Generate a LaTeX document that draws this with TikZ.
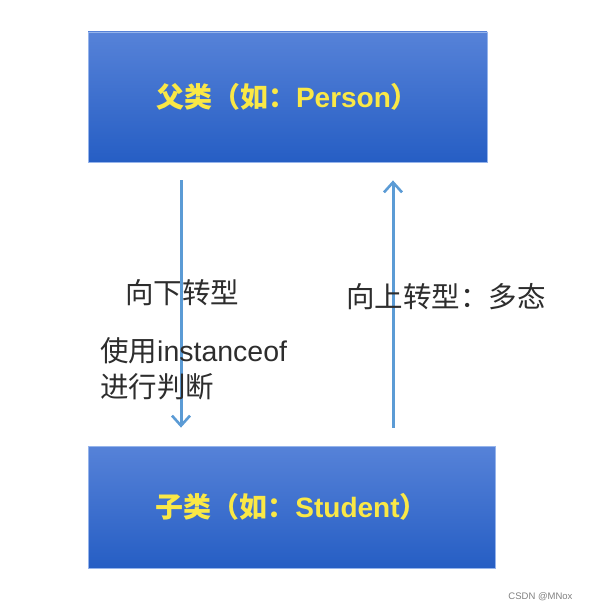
\documentclass[tikz,border=0pt]{standalone}
\usepackage{fontspec}
\setmainfont{Liberation Sans}
\newfontfamily\cjk{Noto Sans CJK SC}
\usetikzlibrary{arrows.meta, positioning}

\definecolor{boxtop}{RGB}{86,130,216}
\definecolor{boxbottom}{RGB}{38,94,196}
\definecolor{boxedge}{RGB}{150,180,235}
\definecolor{arrowblue}{RGB}{91,155,213}
\definecolor{labelyellow}{RGB}{250,232,70}
\definecolor{labelgray}{RGB}{45,45,45}

\begin{document}
\begin{tikzpicture}[x=1pt, y=-1pt,
    classbox/.style={rectangle, draw=boxedge, line width=0.8pt,
      top color=boxtop, bottom color=boxbottom,
      text=labelyellow, font=\fontsize{28}{30}\selectfont\bfseries,
      inner sep=0pt},
    castarrow/.style={draw=arrowblue, line width=3pt,
      -{Straight Barb[length=10pt, width=18pt, line width=2.6pt]}},
    castlabel/.style={anchor=west, text=labelgray, inner sep=0pt,
      font=\fontsize{28.5}{36}\selectfont}]

    % 画布大小
    \useasboundingbox (0,0) rectangle (590,610);

    % 父类与子类
    \node[classbox, minimum width=399pt, minimum height=130pt] (parent) at (287.5, 97)
      {{\cjk 父类（如：}Person{\cjk ）}};
    \node[classbox, minimum width=407pt, minimum height=122pt] (child) at (291.5, 507)
      {{\cjk 子类（如：}Student{\cjk ）}};

    % 两条转型箭头
    \def\downx{-106.5}
    \def\upx{105.5}
    \draw[castarrow, shorten <=18pt, shorten >=18pt]
      ([xshift=\downx pt]parent.south) -- ([xshift=\downx pt]parent.south |- child.north);
    \draw[castarrow, shorten <=18pt, shorten >=18pt]
      ([xshift=\upx pt]parent.south |- child.north) -- ([xshift=\upx pt]parent.south);

    % 文字说明
    \node[castlabel] (down) at (125, 293) {\cjk 向下转型};
    \node[castlabel] (up) at (346, 297) {\cjk 向上转型：多态};
    \node[castlabel, align=left] (check) at (100, 369)
      {{\cjk 使用}instanceof\\{\cjk 进行判断}};

    % 水印
    \node[anchor=east, text=gray, font=\fontsize{9.5}{10}\selectfont] (mark) at (576, 597) {CSDN @MNox};

\end{tikzpicture}
\end{document}
